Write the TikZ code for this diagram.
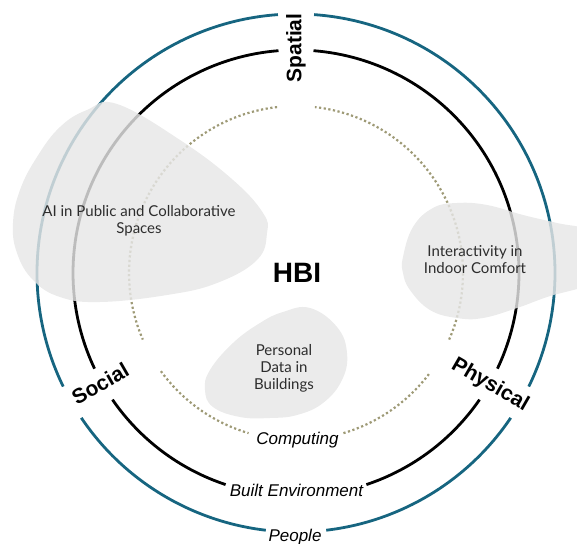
\documentclass[tikz,border=0pt]{standalone}
\usepackage{fontspec}
\usetikzlibrary{calc}
\setmainfont{Liberation Sans}
\newfontfamily\blobfont{Lato}
\definecolor{peopleblue}{RGB}{22,101,128}
\definecolor{compgray}{RGB}{158,154,118}
\definecolor{blobgray}{RGB}{230,230,230}
\definecolor{blobtextcol}{RGB}{45,45,45}
\begin{document}
\begin{tikzpicture}[x=1pt,y=1pt,
  peoplering/.style={draw=peopleblue, line width=2.8pt},
  envring/.style={draw=black, line width=2.8pt},
  compring/.style={draw=compgray, line width=2.2pt, dash pattern=on 2.2pt off 2.5pt},
  ringlabel/.style={font=\bfseries\fontsize{21}{25}\selectfont, inner sep=0pt},
  layerlabel/.style={font=\itshape\fontsize{17}{20}\selectfont, anchor=base, inner sep=0pt},
  blob/.style={fill=blobgray, fill opacity=0.82, draw=none},
  blobtext/.style={font=\blobfont\fontsize{15}{17}\selectfont, text=blobtextcol, align=center, inner sep=0pt}
]
\useasboundingbox (0,0) rectangle (577,543);
\clip (0,0) rectangle (577,543);
\coordinate (C) at (296,270);

% People ring
\draw[peoplering] (C) ++(94:259) arc[start angle=94, end angle=206, radius=259];
\draw[peoplering] (C) ++(214:259) arc[start angle=214, end angle=263.3, radius=259];
\draw[peoplering] (C) ++(276.7:259) arc[start angle=276.7, end angle=326, radius=259];
\draw[peoplering] (C) ++(334:259) arc[start angle=334, end angle=446, radius=259];

% Built environment ring
\draw[envring] (C) ++(94.5:223) arc[start angle=94.5, end angle=205.4, radius=223];
\draw[envring] (C) ++(214.6:223) arc[start angle=214.6, end angle=251.6, radius=223];
\draw[envring] (C) ++(288.4:223) arc[start angle=288.4, end angle=325.4, radius=223];
\draw[envring] (C) ++(334.6:223) arc[start angle=334.6, end angle=445.5, radius=223];

% Computing ring
\draw[compring] (C) ++(96.5:167) arc[start angle=96.5, end angle=203.5, radius=167];
\draw[compring] (C) ++(216:167) arc[start angle=216, end angle=253.5, radius=167];
\draw[compring] (C) ++(286.5:167) arc[start angle=286.5, end angle=323.5, radius=167];
\draw[compring] (C) ++(336.5:167) arc[start angle=336.5, end angle=443.5, radius=167];

% Blobs
\path[blob] plot[smooth cycle, tension=0.7] coordinates {
  (117,439) (180,403) (233,363) (263,330) (267,310) (257,283) (217,260)
  (167,248) (100,241) (60,246) (33,263) (17,290) (13,320) (20,353)
  (37,386) (60,416) (87,433)};
\path[blob] plot[smooth cycle, tension=0.7] coordinates {
  (403,286) (413,316) (433,335) (457,340) (487,338) (523,328) (557,320)
  (590,312) (605,290) (595,262) (547,246) (517,235) (483,225) (457,225)
  (430,233) (410,253) (403,270)};
\path[blob] plot[smooth cycle, tension=0.7] coordinates {
  (310,235) (337,216) (347,190) (342,163) (323,140) (297,128) (270,125)
  (240,126) (213,136) (205,153) (210,173) (233,200) (260,220) (283,231)};

% Blob texts
\node[blobtext] (aitext) at (139,322) {AI in Public and Collaborative\\Spaces};
\node[blobtext] (comforttext) at (475,283) {Interactivity in\\Indoor Comfort};
\node[blobtext] (datatext) at (284,175) {Personal\\Data in\\Buildings};

% Centre
\node[font=\bfseries\fontsize{28}{32}\selectfont, inner sep=0pt] (hbi) at (297,270) {HBI};

% Ring labels
\node[ringlabel, rotate=90] (spatial) at ($(C)+(90:225)$) {Spatial};
\node[ringlabel, rotate=30] (social) at ($(C)+(209.5:225)$) {Social};
\node[ringlabel, rotate=-30] (physical) at ($(C)+(330:224)$) {Physical};

\node[layerlabel] (computing) at (297.5,99) {Computing};
\node[layerlabel] (builtenv) at (296.5,47) {Built Environment};
\node[layerlabel] (people) at (295,2) {People};
\end{tikzpicture}
\end{document}
